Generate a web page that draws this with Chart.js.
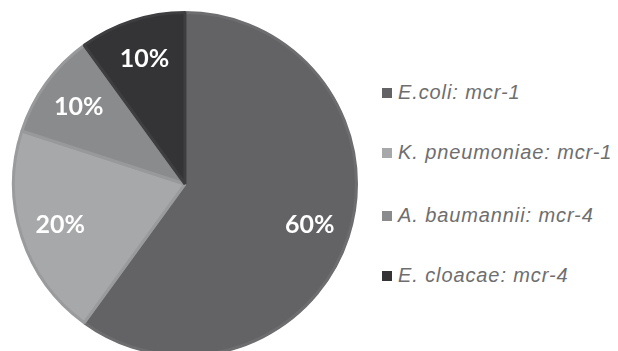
<!DOCTYPE html>
<html>
<head>
<meta charset="utf-8">
<script src="https://cdn.jsdelivr.net/npm/chart.js@4.4.0/dist/chart.umd.min.js"></script>
<style>
  html, body { margin: 0; padding: 0; background: #fff; }
  #wrap { position: relative; width: 618px; height: 351px; overflow: hidden; }
  #chartBox { position: absolute; left: 0; top: 0; width: 370px; height: 357px; }
  #legend { position: absolute; left: 382px; top: 0; list-style: none; margin: 0; padding: 0; }
  #legend li {
    position: absolute; left: 0; white-space: nowrap;
    font-family: "Liberation Sans", Arial, sans-serif; font-style: italic;
    font-size: 20px; letter-spacing: 0.9px; color: #6e6e6e; line-height: 20px;
  }
  #legend li span.box {
    display: inline-block; width: 10px; height: 10px; margin-right: 6px; vertical-align: 1px;
  }
</style>
</head>
<body>
<div id="wrap">
  <div id="chartBox"><canvas id="pie"></canvas></div>
  <ul id="legend"></ul>
</div>
<script>
// data
const categories = ["E.coli: mcr-1", "K. pneumoniae: mcr-1", "A. baumannii: mcr-4", "E. cloacae: mcr-4"];
const percents = [60, 20, 10, 10];
const sliceColors = ["#636365", "#a7a8aa", "#8a8b8d", "#343437"];
const edgeColors = ["#6d6d6f", "#9a9b9d", "#98999b", "#3e3e41"];

// legend (html, built from the arrays)
const legendEl = document.getElementById("legend");
const rowY = [82, 142, 205, 265];
legendEl.innerHTML = categories.map((c, i) =>
  `<li style="top:${rowY[i]}px"><span class="box" style="background:${sliceColors[i]}"></span>${c}</li>`
).join("");

// percentage labels inside the slices
const sliceLabels = {
  id: "sliceLabels",
  afterDatasetsDraw(chart) {
    const { ctx } = chart;
    const meta = chart.getDatasetMeta(0);
    ctx.save();
    ctx.fillStyle = "#ffffff";
    ctx.font = "bold 25px Lato, 'Open Sans', sans-serif";
    ctx.textAlign = "center";
    ctx.textBaseline = "middle";
    meta.data.forEach((arc, i) => {
      const p = arc.getProps(["x", "y", "startAngle", "endAngle", "outerRadius"], true);
      const mid = (p.startAngle + p.endAngle) / 2;
      const r = p.outerRadius * 0.765;
      ctx.fillText(percents[i] + "%", p.x + Math.cos(mid) * r, p.y + Math.sin(mid) * r);
    });
    ctx.restore();
  }
};

new Chart(document.getElementById("pie").getContext("2d"), {
  type: "pie",
  data: {
    labels: categories,
    datasets: [{
      data: percents,
      backgroundColor: sliceColors,
      borderColor: edgeColors,
      borderWidth: 3
    }]
  },
  options: {
    responsive: true,
    maintainAspectRatio: false,
    animation: false,
    layout: { padding: { top: 11, bottom: 0 } },
    plugins: {
      legend: { display: false },
      tooltip: { enabled: false }
    }
  },
  plugins: [sliceLabels]
});
</script>
</body>
</html>
